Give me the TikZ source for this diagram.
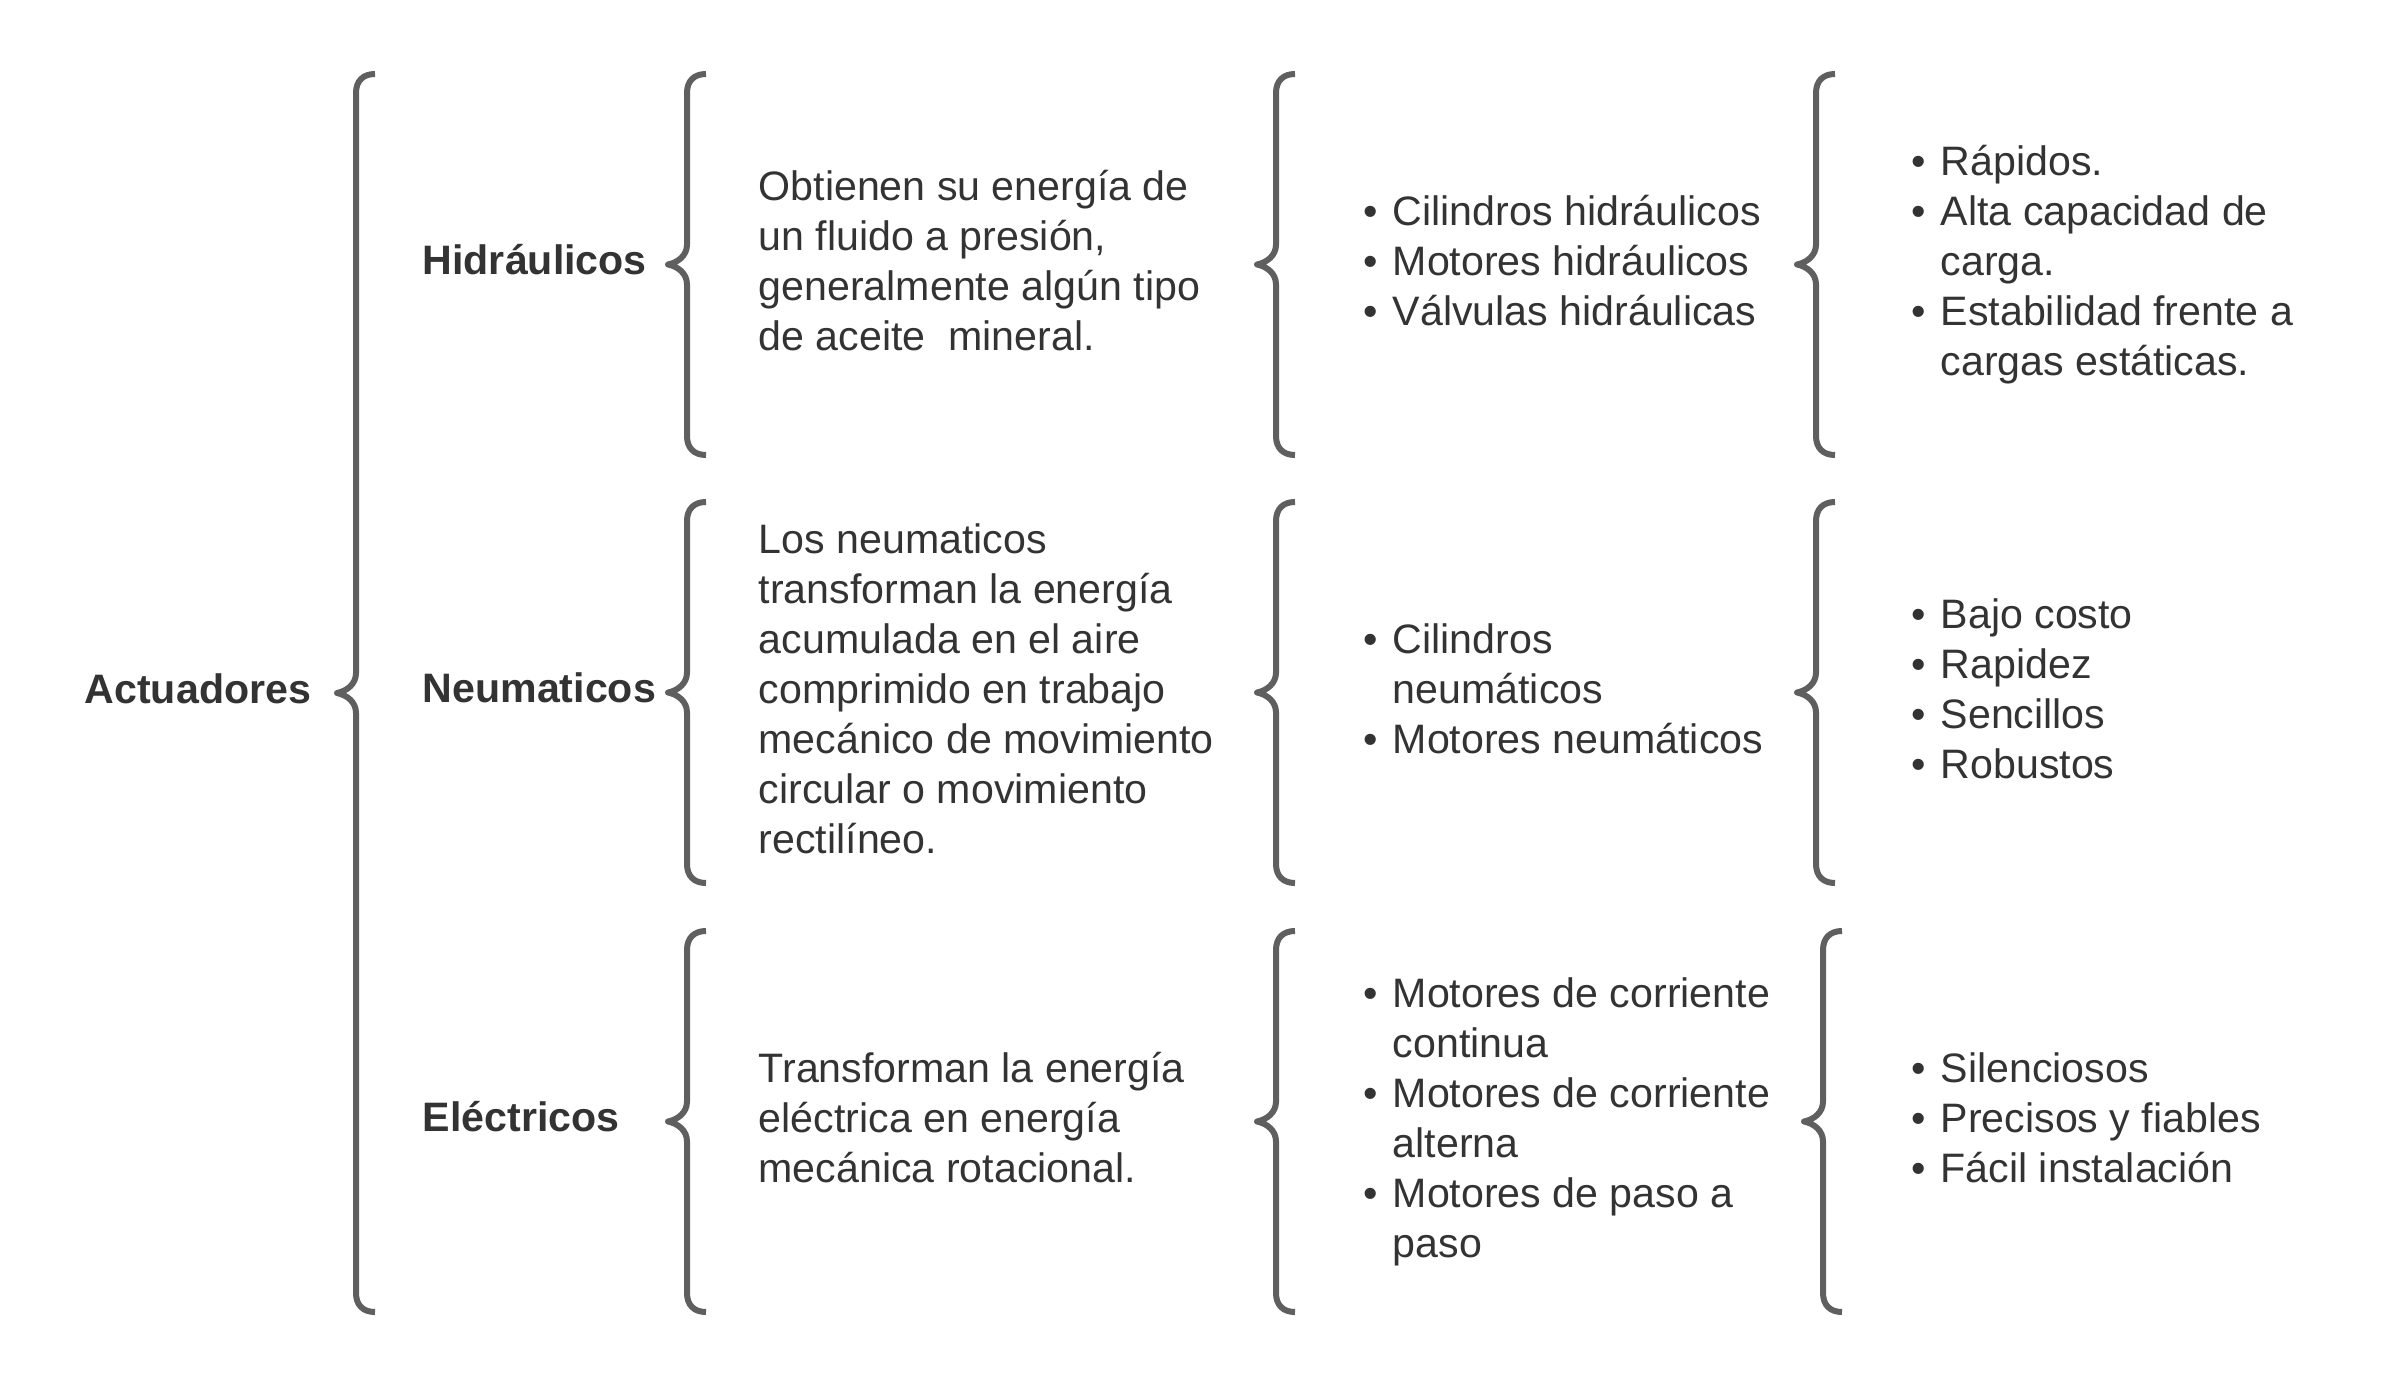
\documentclass[tikz,border=0pt]{standalone}
\usepackage{fontspec}
\setmainfont{Liberation Sans}
\usepackage{xcolor}
\usepackage{tikz}
\definecolor{ink}{HTML}{333333}
\definecolor{brgray}{HTML}{5F5F5F}
\tikzset{
  brc/.style={draw=brgray, line width=0.06cm, line cap=butt, line join=round},
  head/.style={text=ink, font=\fontsize{11.7pt}{14.2pt}\selectfont\bfseries, inner sep=0pt, anchor=base west},
  body/.style={text=ink, font=\fontsize{11.7pt}{14.2pt}\selectfont, inner sep=0pt, anchor=west},
}
\newcommand{\itm}{\makebox[0.29cm][l]{\textbullet}}
\newcommand{\cnt}{\hspace*{0.29cm}}
\newcommand{\curly}[3]{%
  \pgfmathsetmacro{\cmid}{(#2+#3)/2}
  \draw[brc] (#1+19,#2) .. controls (#1+7,#2) and (#1,#2+7) .. (#1,#2+19)
    -- (#1,\cmid-20) .. controls (#1,\cmid-9) and (#1-9,\cmid-2) .. (#1-19,\cmid)
    .. controls (#1-9,\cmid+2) and (#1,\cmid+9) .. (#1,\cmid+20)
    -- (#1,#3-19) .. controls (#1,#3-7) and (#1+7,#3) .. (#1+19,#3);
}

\begin{document}
\begin{tikzpicture}[x=0.01cm, y=-0.01cm]
  \useasboundingbox (0,0) rectangle (2400,1388);

  \curly{356}{74}{1312}
  \foreach \t/\k in {74/1816, 502/1816, 931/1823} {
    \curly{687}{\t}{\t+381}
    \curly{1276}{\t}{\t+381}
    \curly{\k}{\t}{\t+381}
  }

  \node[head] (act) at (84,703) {Actuadores};
  \node[head] (hid) at (422,274.5) {Hidráulicos};
  \node[head] (neu) at (422,702.5) {Neumaticos};
  \node[head] (ele) at (422,1131.5) {Eléctricos};

  \node[body] (hidtxt) at (758,265.5) {\begin{tabular}{@{}l@{}}
    Obtienen su energía de\\ un fluido a presión,\\
    generalmente algún tipo\\ de aceite\ \ mineral.\end{tabular}};
  \node[body] (neutxt) at (758,693.5) {\begin{tabular}{@{}l@{}}
    Los neumaticos\\ transforman la energía\\ acumulada en el aire\\
    comprimido en trabajo\\ mecánico de movimiento\\
    circular o movimiento\\ rectilíneo.\end{tabular}};
  \node[body] (eletxt) at (758,1122.5) {\begin{tabular}{@{}l@{}}
    Transforman la energía\\ eléctrica en energía\\
    mecánica rotacional.\end{tabular}};

  \node[body] (hidtip) at (1363,265.5) {\begin{tabular}{@{}l@{}}
    \itm Cilindros hidráulicos\\ \itm Motores hidráulicos\\
    \itm Válvulas hidráulicas\end{tabular}};
  \node[body] (neutip) at (1363,693.5) {\begin{tabular}{@{}l@{}}
    \itm Cilindros\\ \cnt neumáticos\\ \itm Motores neumáticos\end{tabular}};
  \node[body] (eletip) at (1363,1122.5) {\begin{tabular}{@{}l@{}}
    \itm Motores de corriente\\ \cnt continua\\
    \itm Motores de corriente\\ \cnt alterna\\
    \itm Motores de paso a\\ \cnt paso\end{tabular}};

  \node[body] (hidven) at (1911,265.5) {\begin{tabular}{@{}l@{}}
    \itm Rápidos.\\ \itm Alta capacidad de\\ \cnt carga.\\
    \itm Estabilidad frente a\\ \cnt cargas estáticas.\end{tabular}};
  \node[body] (neuven) at (1911,693.5) {\begin{tabular}{@{}l@{}}
    \itm Bajo costo\\ \itm Rapidez\\ \itm Sencillos\\
    \itm Robustos\end{tabular}};
  \node[body] (eleven) at (1911,1122.5) {\begin{tabular}{@{}l@{}}
    \itm Silenciosos\\ \itm Precisos y fiables\\
    \itm Fácil instalación\end{tabular}};
\end{tikzpicture}
\end{document}
